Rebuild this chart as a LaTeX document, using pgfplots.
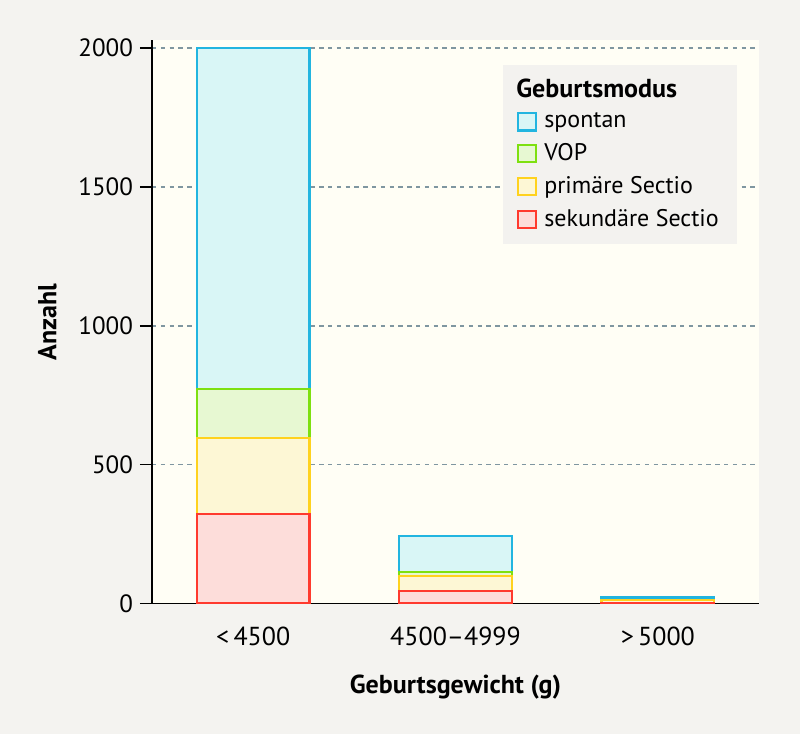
\documentclass[border=0pt]{standalone}
\usepackage{pgfplots}
\pgfplotsset{compat=1.18}
\usepackage{fontspec}
\setmainfont{PT Sans}
\usetikzlibrary{backgrounds}
\definecolor{outerbg}{HTML}{F4F3F0}
\definecolor{plotbg}{HTML}{FFFEF5}
\definecolor{legbg}{HTML}{F3F2EF}
\definecolor{gridc}{HTML}{7F96A0}
\definecolor{cblue}{HTML}{22B5E0}
\definecolor{fblue}{HTML}{D9F6F6}
\definecolor{cgreen}{HTML}{7EE010}
\definecolor{fgreen}{HTML}{E7F8D2}
\definecolor{cyellow}{HTML}{FFD21E}
\definecolor{fyellow}{HTML}{FDF7D5}
\definecolor{cred}{HTML}{FF3A2E}
\definecolor{fred}{HTML}{FDDDDA}
\pgfplotsset{sq/.style={legend image code/.code={\draw[##1, line width=1.1pt] (0pt,-4.3pt) rectangle (9pt,4.3pt); \path[draw=none, fill=none] (0pt,0pt) -- (11pt,0pt);}}}
\begin{document}
\begin{tikzpicture}
\begin{axis}[
  name=ax,
  scale only axis,
  width=303.5pt, height=281.75pt,
  ybar stacked,
  bar width=0.557,
  xmin=-0.5, xmax=2.5,
  ymin=0, ymax=2029,
  xtick={0,1,2},
  xticklabels={{<\,4500},{4500–4999},{>\,5000}},
  x tick style={draw=none},
  minor xtick={-0.5,0.5,1.5,2.5},
  minor x tick style={black, line width=0.85pt},
  minor tick length=6pt,
  ytick={0,500,1000,1500,2000},
  y tick style={black, line width=0.85pt},
  major tick length=6pt,
  tick align=outside,
  axis lines*=left,
  axis line style={black, line width=0.85pt},
  ymajorgrids,
  grid style={gridc, dashed, dash pattern=on 2.2pt off 2.2pt, line width=0.85pt},
  axis background/.style={fill=plotbg},
  tick label style={font=\fontsize{12.5}{14}\selectfont, black},
  /pgf/number format/assume math mode=true,
  /pgf/number format/1000 sep={},
  xticklabel style={yshift=-2pt, font=\fontsize{13}{15}\selectfont},
  xlabel={\textbf{Geburtsgewicht (g)}},
  ylabel={\textbf{Anzahl}},
  label style={font=\fontsize{13}{15}\selectfont},
  xlabel style={yshift=-8pt},
  ylabel style={yshift=4pt},
  reverse legend,
  legend cell align=left,
  legend style={at={(0.578,0.957)}, anchor=north west, draw=none, fill=legbg,
    font=\fontsize{12}{14}\selectfont, inner xsep=7pt, inner ysep=5pt,
    row sep=2.4pt},
]
\addplot+[sq, draw=cred, fill=fred, line width=1.1pt] coordinates {(0,321) (1,45) (2,3)};
\addplot+[sq, draw=cyellow, fill=fyellow, line width=1.1pt] coordinates {(0,274) (1,54) (2,9)};
\addplot+[sq, draw=cgreen, fill=fgreen, line width=1.1pt] coordinates {(0,176) (1,14) (2,1)};
\addplot+[sq, draw=cblue, fill=fblue, line width=1.1pt] coordinates {(0,1229) (1,131) (2,9)};
\addlegendentry{sekundäre Sectio}
\addlegendentry{primäre Sectio}
\addlegendentry{VOP}
\addlegendentry{spontan}
\addlegendimage{empty legend}
\addlegendentry{\hspace*{-14pt}\fontsize{13}{15}\selectfont\textbf{Geburtsmodus}}
\end{axis}
\begin{scope}[on background layer]
\fill[outerbg] ([xshift=-76pt,yshift=-65.25pt]ax.south west) rectangle ([xshift=20.5pt,yshift=20pt]ax.north east);
\end{scope}
\end{tikzpicture}
\end{document}
